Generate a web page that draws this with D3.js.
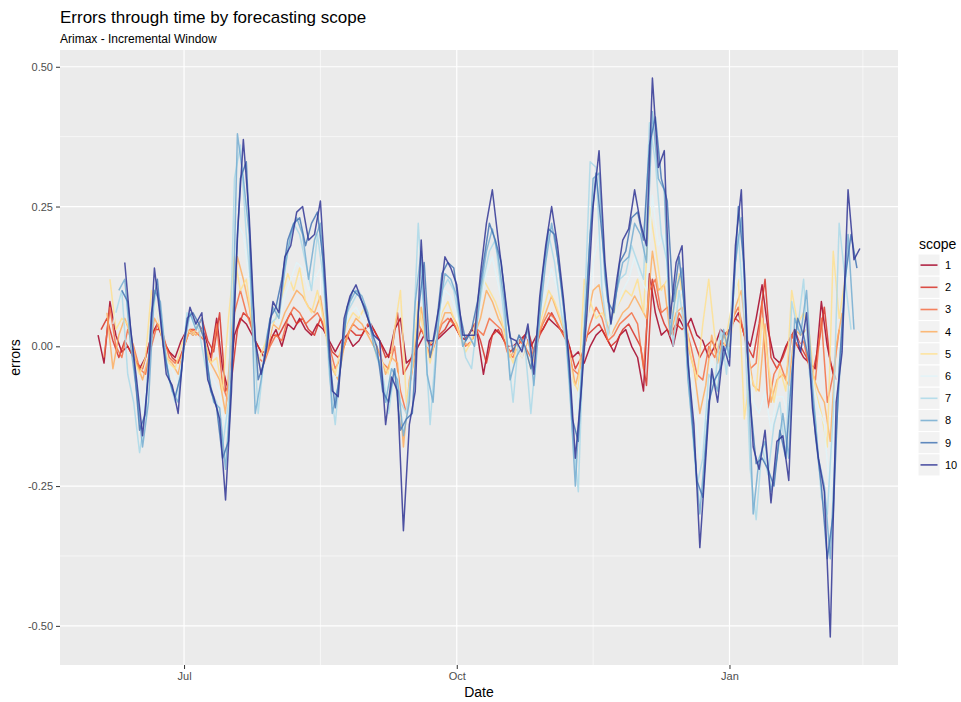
<!DOCTYPE html>
<html>
<head>
<meta charset="utf-8">
<script src="https://cdn.jsdelivr.net/npm/d3@7"></script>
<style>
  body { margin: 0; background: #ffffff; }
  text { font-family: "Liberation Sans", Arial, Helvetica, sans-serif; }
</style>
</head>
<body>
<svg id="chart" width="961" height="702"></svg>
<script>
// ---- data -------------------------------------------------------------
const scopeNames = ["1", "2", "3", "4", "5", "6", "7", "8", "9", "10"];
const scopeColors = ["#A50026", "#D73027", "#F46D43", "#FDAE61", "#FEE090",
                     "#E0F3F8", "#ABD9E9", "#74ADD1", "#4575B4", "#313695"];

// scope k starts k days after 2016-06-01, one value every two days
const firstDate = "2016-06-02";
const stepDays = 2;

const scope1 = [0.02,-0.03,0.08,0.02,-0.01,0.0,-0.02,-0.04,-0.02,0.02,
  0.04,0.01,-0.01,-0.02,0.01,0.03,0.02,0.04,0.02,-0.02,
  0.05,-0.04,-0.08,0.02,0.05,0.04,0.02,0.0,-0.02,0.01,
  0.03,0.0,0.04,0.03,0.05,0.03,0.02,0.04,0.03,0.01,
  -0.01,0.01,0.02,0.0,0.01,0.03,0.04,0.02,0.0,-0.02,
  0.03,0.05,-0.03,-0.02,0.0,0.02,0.0,0.01,0.02,0.03,
  0.04,0.02,0.01,0.03,0.02,-0.05,0.01,0.03,0.02,0.0,
  0.0,0.01,0.02,0.0,0.02,0.03,0.05,0.04,0.03,0.02,
  -0.02,-0.01,-0.03,0.0,0.02,0.03,0.01,-0.01,0.02,0.03,
  0.0,-0.02,-0.08,0.13,0.06,0.02,0.03,0.0,0.05,0.03,
  0.05,0.02,0.01,-0.02,0.0,0.03,0.02,0.04,0.06,0.02,
  0.0,0.05,0.11,0.03,-0.02,-0.03,0.0,0.02,0.0,-0.02,
  -0.03,-0.04,0.08,0.0,-0.05];

const scope2 = [0.03,0.05,0.01,-0.02,0.01,-0.01,-0.03,-0.04,0.0,0.03,
  0.03,0.0,-0.02,-0.03,0.0,0.03,0.03,0.05,0.01,-0.01,
  0.06,-0.08,-0.06,0.03,0.06,0.05,0.01,-0.01,-0.01,0.02,
  0.02,0.04,0.06,0.04,0.05,0.03,0.02,0.05,0.02,-0.01,
  -0.02,0.0,0.03,0.02,0.02,0.04,0.03,0.01,-0.02,-0.01,
  0.06,-0.05,-0.03,0.0,0.03,0.01,0.0,0.02,0.03,0.05,
  0.03,0.01,0.02,0.04,0.01,-0.03,0.02,0.03,0.01,-0.01,
  0.0,0.01,0.03,-0.01,0.02,0.04,0.06,0.04,0.02,0.0,
  -0.04,-0.02,0.02,0.03,0.04,0.02,0.0,0.01,0.03,0.04,
  0.02,0.0,-0.07,0.12,0.07,0.04,0.02,0.04,0.03,0.04,
  0.01,-0.02,0.0,0.01,-0.01,0.02,0.03,0.05,0.04,0.0,
  -0.02,0.04,0.12,-0.02,-0.04,-0.02,0.01,0.03,0.0,-0.02,
  -0.05,0.0,0.07,-0.03,-0.06];

const scope3 = [-0.02,0.07,0.0,-0.02,0.03,0.0,-0.04,-0.05,0.0,0.04,
  0.02,-0.02,-0.03,-0.02,0.02,0.03,0.02,0.01,-0.03,0.04,
  -0.07,-0.1,0.06,0.1,0.06,0.03,-0.02,-0.03,0.0,0.02,
  0.01,0.05,0.07,0.06,0.04,0.05,0.06,0.04,0.0,-0.04,
  -0.02,0.02,0.04,0.03,0.03,0.02,0.0,-0.03,-0.04,0.0,
  -0.08,-0.12,-0.04,0.04,0.02,-0.02,0.01,0.04,0.05,0.04,
  0.02,0.0,0.01,0.03,0.02,0.05,0.04,0.03,-0.01,-0.02,
  0.01,0.0,-0.02,0.01,0.04,0.06,0.05,0.03,0.01,-0.04,
  -0.05,0.0,0.04,0.07,0.05,0.01,0.02,0.04,0.05,0.06,
  0.04,-0.04,0.1,0.12,0.06,0.07,0.02,0.06,0.04,0.0,
  -0.05,-0.06,0.0,-0.02,0.01,0.0,0.05,0.07,0.02,-0.04,
  -0.03,0.08,-0.11,-0.05,-0.03,-0.06,0.02,0.0,0.01,-0.04,
  -0.06,0.05,-0.1,-0.05,0.03];

const scope4 = [0.06,-0.04,0.02,0.05,0.02,-0.03,-0.06,-0.02,0.05,0.03,
  -0.02,-0.03,-0.05,0.0,0.03,0.02,0.03,-0.02,-0.04,-0.06,
  -0.12,0.02,0.16,0.12,0.07,0.0,-0.04,-0.01,0.04,0.03,
  0.06,0.08,0.1,0.09,0.07,0.06,0.09,0.02,-0.04,-0.06,
  0.0,0.03,0.05,0.04,0.02,0.0,-0.01,-0.05,-0.02,-0.03,
  -0.18,-0.06,-0.02,0.07,0.0,0.01,0.03,0.06,0.06,0.04,
  0.01,0.0,0.02,0.05,0.1,0.08,0.05,0.03,-0.02,0.0,
  -0.02,0.01,-0.03,0.03,0.06,0.09,0.06,0.03,-0.01,-0.07,
  -0.03,0.05,0.1,0.11,0.05,0.02,0.04,0.06,0.07,0.09,
  0.07,0.05,0.17,0.1,0.11,0.02,0.06,0.07,0.0,-0.04,
  -0.12,-0.07,0.02,-0.03,0.02,0.0,0.07,0.1,0.0,-0.07,
  -0.08,0.04,-0.1,-0.06,-0.05,-0.07,0.03,0.02,0.03,-0.05,
  -0.08,-0.1,-0.17,0.0,0.06];

const scope5 = [0.12,0.03,0.05,0.04,-0.02,-0.05,-0.02,0.1,0.06,0.0,
  -0.03,-0.04,0.0,0.03,0.02,0.04,0.01,-0.03,-0.02,-0.08,
  0.05,0.16,0.1,0.12,0.04,-0.03,0.0,0.03,0.05,0.09,
  0.13,0.1,0.14,0.08,0.06,0.1,0.05,-0.02,-0.05,0.0,
  0.04,0.06,0.05,0.07,0.03,-0.02,-0.03,-0.05,0.03,0.1,
  -0.1,-0.04,0.08,0.02,-0.03,0.02,0.06,0.08,0.05,0.02,
  -0.01,0.01,0.06,0.12,0.1,0.08,0.05,0.0,-0.03,0.02,
  0.0,-0.04,0.02,0.06,0.1,0.08,0.05,0.02,-0.06,-0.08,
  0.12,0.08,0.05,0.06,0.04,0.06,0.08,0.1,0.09,0.12,
  0.06,0.25,0.18,0.1,0.12,0.05,0.13,0.06,-0.02,-0.06,
  0.04,0.12,0.02,-0.03,0.02,0.08,0.12,-0.13,-0.05,-0.08,
  0.05,-0.03,-0.1,-0.04,-0.08,0.1,0.04,0.06,0.02,-0.08,
  -0.12,-0.18,0.17,0.05,0.12];

const scope6 = [0.04,0.08,0.1,0.02,-0.05,-0.12,-0.05,0.08,0.04,-0.03,
  -0.04,-0.07,0.0,0.05,0.03,0.04,-0.03,-0.06,-0.08,-0.15,
  -0.03,0.22,0.2,0.12,0.0,-0.04,0.0,0.05,0.04,0.09,
  0.12,0.15,0.14,0.1,0.12,0.14,0.05,-0.06,-0.05,0.03,
  0.06,0.07,0.05,0.03,0.01,0.0,-0.08,-0.03,-0.05,-0.15,
  -0.08,-0.04,0.12,0.0,0.0,0.04,0.1,0.09,0.06,0.01,
  0.01,0.01,0.08,0.13,0.16,0.11,0.06,0.0,0.0,-0.02,
  0.02,-0.04,0.05,0.1,0.14,0.1,0.05,-0.02,-0.12,-0.05,
  0.04,0.15,0.2,0.09,0.02,0.07,0.1,0.12,0.16,0.12,
  0.1,0.27,0.18,0.2,0.03,0.08,0.1,-0.02,-0.08,-0.2,
  -0.11,-0.02,-0.06,0.0,-0.02,0.1,0.15,0.0,-0.1,-0.12,
  -0.08,-0.15,-0.09,-0.09,-0.13,0.02,0.0,0.03,-0.06,-0.11,
  -0.14,-0.28,-0.05,0.0,0.15];

const scope7 = [0.06,0.1,-0.05,-0.1,-0.19,-0.12,0.06,0.1,0.02,-0.06,
  -0.1,-0.04,0.06,0.05,0.03,-0.03,-0.08,-0.1,-0.18,-0.1,
  0.3,0.36,0.2,0.08,-0.12,-0.02,0.04,0.05,0.1,0.17,
  0.22,0.2,0.15,0.1,0.2,0.12,-0.05,-0.14,-0.02,0.06,
  0.08,0.1,0.06,0.04,-0.02,-0.05,-0.12,-0.04,-0.1,-0.12,
  -0.03,0.22,0.05,-0.14,0.0,0.1,0.12,0.1,0.04,-0.02,
  -0.04,0.05,0.12,0.17,0.19,0.1,0.0,-0.1,0.02,0.0,
  -0.12,0.0,0.12,0.2,0.15,0.07,0.0,-0.15,-0.26,0.05,
  0.33,0.32,0.1,0.02,0.08,0.12,0.13,0.18,0.15,0.12,
  0.4,0.33,0.2,0.15,0.0,0.1,0.02,-0.12,-0.25,-0.2,
  -0.05,-0.07,0.03,-0.05,0.1,0.2,0.05,-0.22,-0.31,-0.18,
  -0.23,-0.14,-0.1,-0.2,0.08,0.03,0.12,-0.05,-0.13,-0.27,
  -0.3,-0.12,0.22,0.12,0.03];

const scope8 = [0.1,0.12,0.0,-0.08,-0.18,-0.1,0.1,0.08,-0.03,-0.08,
  -0.1,0.0,0.06,0.03,0.05,-0.04,-0.1,-0.11,-0.22,-0.06,
  0.38,0.3,0.2,-0.12,-0.06,0.02,0.07,0.05,0.14,0.2,
  0.23,0.2,0.12,0.19,0.22,0.06,-0.12,-0.07,0.04,0.08,
  0.1,0.09,0.06,0.0,-0.03,-0.1,-0.04,-0.06,-0.16,-0.1,
  0.08,0.17,-0.05,-0.1,0.06,0.13,0.12,0.09,0.0,0.02,
  0.0,0.1,0.17,0.21,0.16,0.08,-0.06,-0.02,0.0,0.03,
  -0.07,0.05,0.15,0.22,0.16,0.07,-0.06,-0.25,-0.05,0.1,
  0.3,0.31,0.12,0.04,0.1,0.15,0.16,0.22,0.2,0.15,
  0.42,0.3,0.28,0.02,0.1,0.14,-0.06,-0.17,-0.3,-0.17,
  -0.05,-0.08,0.03,-0.02,0.15,0.23,0.0,-0.3,-0.2,-0.17,
  -0.26,-0.2,-0.12,-0.2,0.05,0.02,0.1,-0.07,-0.2,-0.25,
  -0.38,-0.15,0.02,0.2,0.03];

const scope9 = [0.1,0.08,-0.02,-0.15,-0.12,0.06,0.12,0.0,-0.06,-0.09,
  -0.05,0.05,0.06,0.04,0.01,-0.08,-0.11,-0.2,-0.17,0.08,
  0.3,0.33,0.1,-0.06,-0.03,0.05,0.07,0.12,0.19,0.22,
  0.23,0.18,0.22,0.24,0.15,-0.02,-0.11,-0.03,0.07,0.1,
  0.09,0.07,0.03,0.0,-0.08,-0.1,-0.04,-0.15,-0.13,-0.12,
  0.06,0.15,-0.02,0.03,0.13,0.15,0.14,0.06,0.01,0.03,
  0.08,0.15,0.22,0.19,0.15,0.05,-0.01,0.02,0.0,-0.04,
  0.02,0.13,0.21,0.2,0.12,0.03,-0.13,-0.17,0.02,0.2,
  0.31,0.2,0.08,0.06,0.15,0.17,0.23,0.24,0.19,0.36,
  0.41,0.3,0.26,0.08,0.16,0.06,-0.1,-0.24,-0.27,-0.1,
  -0.06,-0.04,0.0,0.06,0.25,0.14,-0.1,-0.21,-0.2,-0.22,
  -0.25,-0.15,-0.2,-0.05,0.05,0.02,-0.03,-0.16,-0.25,-0.38,
  -0.3,-0.04,0.12,0.2,0.14];

const scope10 = [0.15,0.03,-0.06,-0.16,-0.05,0.14,0.05,-0.05,-0.07,-0.12,
  0.01,0.07,0.04,0.06,-0.06,-0.09,-0.13,-0.275,-0.08,0.2,
  0.37,0.23,0.01,-0.05,0.0,0.08,0.06,0.16,0.18,0.24,
  0.25,0.19,0.2,0.26,0.09,-0.08,-0.09,0.05,0.09,0.11,
  0.08,0.05,0.02,0.01,-0.14,-0.055,-0.08,-0.33,-0.14,-0.08,
  0.19,0.01,0.01,0.07,0.16,0.14,0.11,0.02,0.02,0.02,
  0.13,0.22,0.28,0.19,0.105,0.015,0.01,-0.01,0.04,-0.05,
  0.09,0.18,0.25,0.18,0.085,-0.03,-0.2,-0.08,0.065,0.25,
  0.35,0.15,0.04,0.12,0.19,0.21,0.28,0.22,0.18,0.48,
  0.32,0.35,0.05,0.15,0.18,-0.03,-0.14,-0.36,-0.2,-0.04,
  -0.1,0.0,-0.035,0.18,0.28,-0.01,-0.18,-0.22,-0.15,-0.28,
  -0.17,-0.16,-0.24,0.03,-0.01,0.06,-0.11,-0.2,-0.26,-0.52,
  -0.1,-0.01,0.28,0.155,0.175];

const scopeValues = [scope1, scope2, scope3, scope4, scope5,
                     scope6, scope7, scope8, scope9, scope10];

const yTicks = [-0.5, -0.25, 0, 0.25, 0.5];
const yTickLabels = ["-0.50", "-0.25", "0.00", "0.25", "0.50"];
const xTicks = ["2016-07-01", "2016-10-01", "2017-01-01"];
const xTickLabels = ["Jul", "Oct", "Jan"];
const xMinorTicks = ["2016-08-16", "2016-11-16", "2017-02-15"];

// ---- build series -----------------------------------------------------
const parse = d3.timeParse("%Y-%m-%d");
const start = parse(firstDate);
const series = scopeValues.map((vals, k) => ({
  name: scopeNames[k],
  color: scopeColors[k],
  points: vals.map((v, i) => ({ date: d3.timeDay.offset(start, k + i * stepDays), value: v }))
}));
const allPts = series.flatMap(s => s.points);

// ---- layout -----------------------------------------------------------
const svg = d3.select("#chart");
const panel = { left: 60, right: 898, top: 50, bottom: 665 };

const dExt = d3.extent(allPts, p => p.date);
const dPad = (dExt[1] - dExt[0]) * 0.05;
const x = d3.scaleTime()
  .domain([new Date(+dExt[0] - dPad), new Date(+dExt[1] + dPad)])
  .range([panel.left, panel.right]);

const vExt = d3.extent(allPts, p => p.value);
const vPad = (vExt[1] - vExt[0]) * 0.05;
const y = d3.scaleLinear()
  .domain([vExt[0] - vPad, vExt[1] + vPad])
  .range([panel.bottom, panel.top]);

// panel background
svg.append("rect")
  .attr("x", panel.left).attr("y", panel.top)
  .attr("width", panel.right - panel.left).attr("height", panel.bottom - panel.top)
  .attr("fill", "#EBEBEB");

// grid: minor then major
const grid = svg.append("g");
const yMinor = d3.range(yTicks.length - 1).map(i => (yTicks[i] + yTicks[i + 1]) / 2);
grid.selectAll(".ymin").data(yMinor).join("line")
  .attr("x1", panel.left).attr("x2", panel.right)
  .attr("y1", d => y(d)).attr("y2", d => y(d))
  .attr("stroke", "#ffffff").attr("stroke-width", 0.6);
grid.selectAll(".xmin").data(xMinorTicks.map(parse)).join("line")
  .attr("x1", d => x(d)).attr("x2", d => x(d))
  .attr("y1", panel.top).attr("y2", panel.bottom)
  .attr("stroke", "#ffffff").attr("stroke-width", 0.6);
grid.selectAll(".ymaj").data(yTicks).join("line")
  .attr("x1", panel.left).attr("x2", panel.right)
  .attr("y1", d => y(d)).attr("y2", d => y(d))
  .attr("stroke", "#ffffff").attr("stroke-width", 1.2);
grid.selectAll(".xmaj").data(xTicks.map(parse)).join("line")
  .attr("x1", d => x(d)).attr("x2", d => x(d))
  .attr("y1", panel.top).attr("y2", panel.bottom)
  .attr("stroke", "#ffffff").attr("stroke-width", 1.2);

// clip to panel
svg.append("clipPath").attr("id", "panelClip")
  .append("rect")
  .attr("x", panel.left).attr("y", panel.top)
  .attr("width", panel.right - panel.left).attr("height", panel.bottom - panel.top);

const line = d3.line().x(p => x(p.date)).y(p => y(p.value));
svg.append("g").attr("clip-path", "url(#panelClip)")
  .selectAll("path").data(series).join("path")
  .attr("d", s => line(s.points))
  .attr("fill", "none")
  .attr("stroke", s => s.color)
  .attr("stroke-opacity", 0.85)
  .attr("stroke-width", 1.5)
  .attr("stroke-linejoin", "round");

// axes
const yAxis = d3.axisLeft(y).tickValues(yTicks)
  .tickFormat((d, i) => yTickLabels[i]).tickSize(4).tickPadding(3);
const gy = svg.append("g").attr("transform", `translate(${panel.left},0)`).call(yAxis);
gy.select(".domain").remove();
gy.selectAll(".tick line").attr("stroke", "#333333");
gy.selectAll(".tick text").attr("fill", "#4D4D4D").style("font-size", "11px");

const xAxis = d3.axisBottom(x).tickValues(xTicks.map(parse))
  .tickFormat((d, i) => xTickLabels[i]).tickSize(4).tickPadding(3);
const gx = svg.append("g").attr("transform", `translate(0,${panel.bottom})`).call(xAxis);
gx.select(".domain").remove();
gx.selectAll(".tick line").attr("stroke", "#333333");
gx.selectAll(".tick text").attr("fill", "#4D4D4D").style("font-size", "11px");

// axis titles
svg.append("text").attr("x", (panel.left + panel.right) / 2).attr("y", 697)
  .attr("text-anchor", "middle").style("font-size", "14px").attr("fill", "#000")
  .text("Date");
svg.append("text")
  .attr("transform", `translate(20,${(panel.top + panel.bottom) / 2}) rotate(-90)`)
  .attr("text-anchor", "middle").style("font-size", "14px").attr("fill", "#000")
  .text("errors");

// titles
svg.append("text").attr("x", 60).attr("y", 23)
  .style("font-size", "17px").attr("fill", "#000")
  .text("Errors through time by forecasting scope");
svg.append("text").attr("x", 60).attr("y", 43)
  .style("font-size", "12px").attr("fill", "#000")
  .text("Arimax - Incremental Window");

// legend
const legend = svg.append("g").attr("transform", "translate(918,0)");
legend.append("text").attr("x", 1).attr("y", 249)
  .style("font-size", "14px").attr("fill", "#000").text("scope");
const keyH = 22.2, keyTop = 254;
const items = legend.selectAll(".item").data(series).join("g")
  .attr("transform", (s, i) => `translate(0,${keyTop + i * keyH})`);
items.append("rect").attr("x", 0).attr("y", 0).attr("width", 22).attr("height", keyH)
  .attr("fill", "#F2F2F2").attr("stroke", "#ffffff").attr("stroke-width", 1);
items.append("line").attr("x1", 2.5).attr("x2", 19.5)
  .attr("y1", keyH / 2).attr("y2", keyH / 2)
  .attr("stroke", s => s.color).attr("stroke-opacity", 0.85).attr("stroke-width", 1.6);
items.append("text").attr("x", 27).attr("y", keyH / 2 + 4)
  .style("font-size", "11px").attr("fill", "#000").text(s => s.name);
</script>
</body>
</html>
